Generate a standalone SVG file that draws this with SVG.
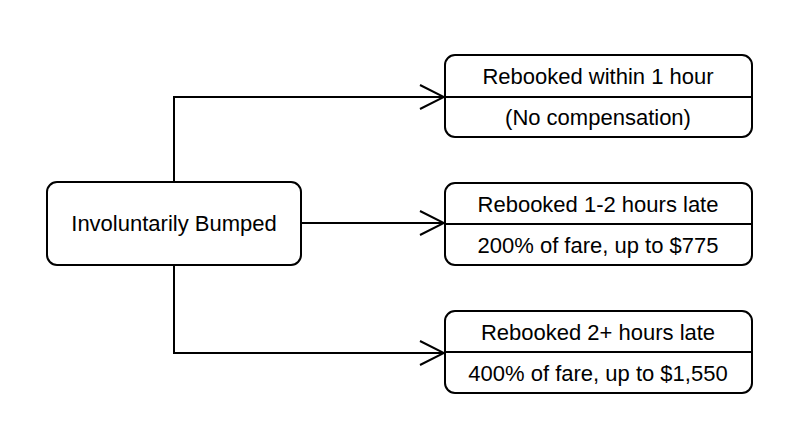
<svg xmlns="http://www.w3.org/2000/svg" width="800" height="447" viewBox="0 0 800 447">
<style>
.box{fill:#fff;stroke:#000;stroke-width:2}
.ln{fill:none;stroke:#000;stroke-width:2}
text{font-family:"Liberation Sans",Arial,sans-serif;font-size:22px;fill:#000;text-anchor:middle;dominant-baseline:central}
</style>
<defs>
<marker id="ah" viewBox="0 0 26 26" refX="25" refY="13" markerWidth="26" markerHeight="26" markerUnits="userSpaceOnUse" orient="auto">
<path d="M1,1 L25,13 L1,25" fill="none" stroke="#000" stroke-width="2"/>
</marker>
</defs>
<rect width="800" height="447" fill="#fff"/>
<g id="connectors">
<path class="ln" d="M174,182 V97 H444" marker-end="url(#ah)"/>
<path class="ln" d="M301,223 H444" marker-end="url(#ah)"/>
<path class="ln" d="M174,265 V353 H444" marker-end="url(#ah)"/>
</g>
<g id="bumped">
<rect class="box" x="47" y="182" width="254" height="83" rx="10"/>
<text x="174" y="223.5">Involuntarily Bumped</text>
</g>
<g id="within1">
<rect class="box" x="445" y="55" width="307" height="82" rx="10"/>
<line class="ln" x1="445" y1="97" x2="752" y2="97"/>
<text x="598" y="76">Rebooked within 1 hour</text>
<text x="598" y="117">(No compensation)</text>
</g>
<g id="late12">
<rect class="box" x="445" y="183" width="307" height="82" rx="10"/>
<line class="ln" x1="445" y1="224" x2="752" y2="224"/>
<text x="598" y="204">Rebooked 1-2 hours late</text>
<text x="598" y="245">200% of fare, up to $775</text>
</g>
<g id="late2plus">
<rect class="box" x="445" y="311" width="307" height="82" rx="10"/>
<line class="ln" x1="445" y1="352" x2="752" y2="352"/>
<text x="598" y="332">Rebooked 2+ hours late</text>
<text x="598" y="373">400% of fare, up to $1,550</text>
</g>
</svg>
